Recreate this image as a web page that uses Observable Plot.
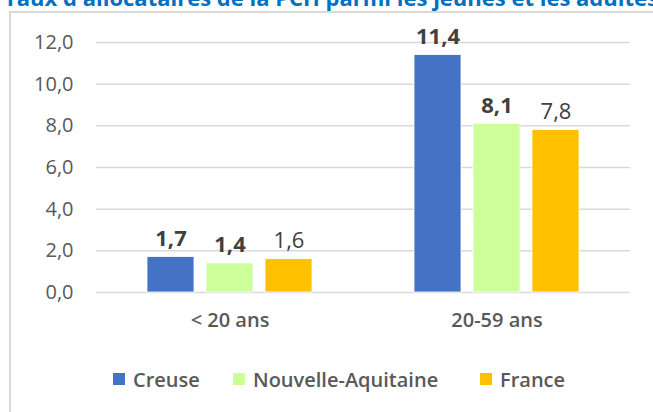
<!DOCTYPE html>
<html>
<head>
<meta charset="utf-8">
<script src="https://cdn.jsdelivr.net/npm/d3@7"></script>
<script src="https://cdn.jsdelivr.net/npm/@observablehq/plot@0.6"></script>
<style>
  html, body { margin: 0; padding: 0; background: #fff; overflow: hidden; }
  #wrap { position: relative; width: 653px; height: 412px; overflow: hidden; font-family: "Open Sans", sans-serif; }
  #title { position: absolute; left: 4px; top: -14px; line-height: 22px; white-space: nowrap; color: #0070C0; font-weight: bold; font-size: 22px; }
  #box { position: absolute; left: 9px; top: 11px; width: 680px; height: 430px; border: 2px solid #d9d9d9; box-sizing: border-box; }
  #chart { position: absolute; left: 0; top: 0; }
  #legend { position: absolute; top: 368px; left: 0; width: 653px; height: 22px; font-size: 20px; font-weight: 600; color: #595959; }
  .item { position: absolute; top: 0; display: flex; align-items: center; height: 22px; }
  .sw { width: 12px; height: 12px; margin-right: 8px; }
</style>
</head>
<body>
<div id="wrap">
  <div id="title">Taux d'allocataires de la PCH parmi les jeunes et les adultes</div>
  <div id="box"></div>
  <div id="chart"></div>
  <div id="legend"></div>
</div>
<script>
const categories = ["< 20 ans", "20-59 ans"];
const series = ["Creuse", "Nouvelle-Aquitaine", "France"];
const colors = ["#4472C4", "#CCFF99", "#FFC000"];
const creuse = [1.7, 11.4];
const nouvelleAquitaine = [1.4, 8.1];
const france = [1.6, 7.8];
const yTicks = [0, 2, 4, 6, 8, 10, 12];
const boldSeries = ["Creuse", "Nouvelle-Aquitaine"];

const valuesBySeries = [creuse, nouvelleAquitaine, france];
const data = [];
categories.forEach((c, i) => {
  series.forEach((s, j) => data.push({category: c, series: s, value: valuesBySeries[j][i]}));
});
const fmt = v => v.toFixed(1).replace(".", ",");

const plot = Plot.plot({
  width: 653,
  height: 345,
  marginLeft: 96,
  marginRight: 23,
  marginTop: 42,
  marginBottom: 53,
  style: {fontFamily: "'Open Sans', sans-serif", background: "transparent"},
  fx: {domain: categories, paddingInner: 0, paddingOuter: 0, label: null},
  x: {domain: series, paddingInner: 0.21, paddingOuter: 0.85, axis: null},
  y: {domain: [0, 12], label: null},
  color: {domain: series, range: colors},
  marks: [
    Plot.gridY(yTicks, {stroke: "#d9d9d9", strokeOpacity: 1, strokeWidth: 1.5}),
    Plot.axisY(yTicks, {tickSize: 0, tickPadding: 23, tickFormat: fmt, fontSize: 20, fill: "#595959", label: null}),
    Plot.axisFx({anchor: "bottom", tickSize: 0, tickPadding: 20, fontSize: 20, fontWeight: 600, fill: "#595959", label: null}),
    Plot.barY(data, {fx: "category", x: "series", y: "value", fill: "series", stroke: "#ffffff", strokeWidth: 0.8}),
    Plot.text(data.filter(d => boldSeries.includes(d.series)), {fx: "category", x: "series", y: "value", text: d => fmt(d.value), lineAnchor: "bottom", dy: -11, fontSize: 22, fontWeight: "bold", fill: "#404040"}),
    Plot.text(data.filter(d => !boldSeries.includes(d.series)), {fx: "category", x: "series", y: "value", text: d => fmt(d.value), lineAnchor: "bottom", dy: -11, fontSize: 22, fill: "#404040"})
  ]
});
document.getElementById("chart").appendChild(plot);

const legend = document.getElementById("legend");
const lefts = [113, 233, 480];
series.forEach((s, i) => {
  const it = document.createElement("div");
  it.className = "item";
  it.style.left = lefts[i] + "px";
  const sw = document.createElement("div");
  sw.className = "sw";
  sw.style.background = colors[i];
  const t = document.createElement("span");
  t.textContent = s;
  it.appendChild(sw);
  it.appendChild(t);
  legend.appendChild(it);
});
</script>
</body>
</html>
